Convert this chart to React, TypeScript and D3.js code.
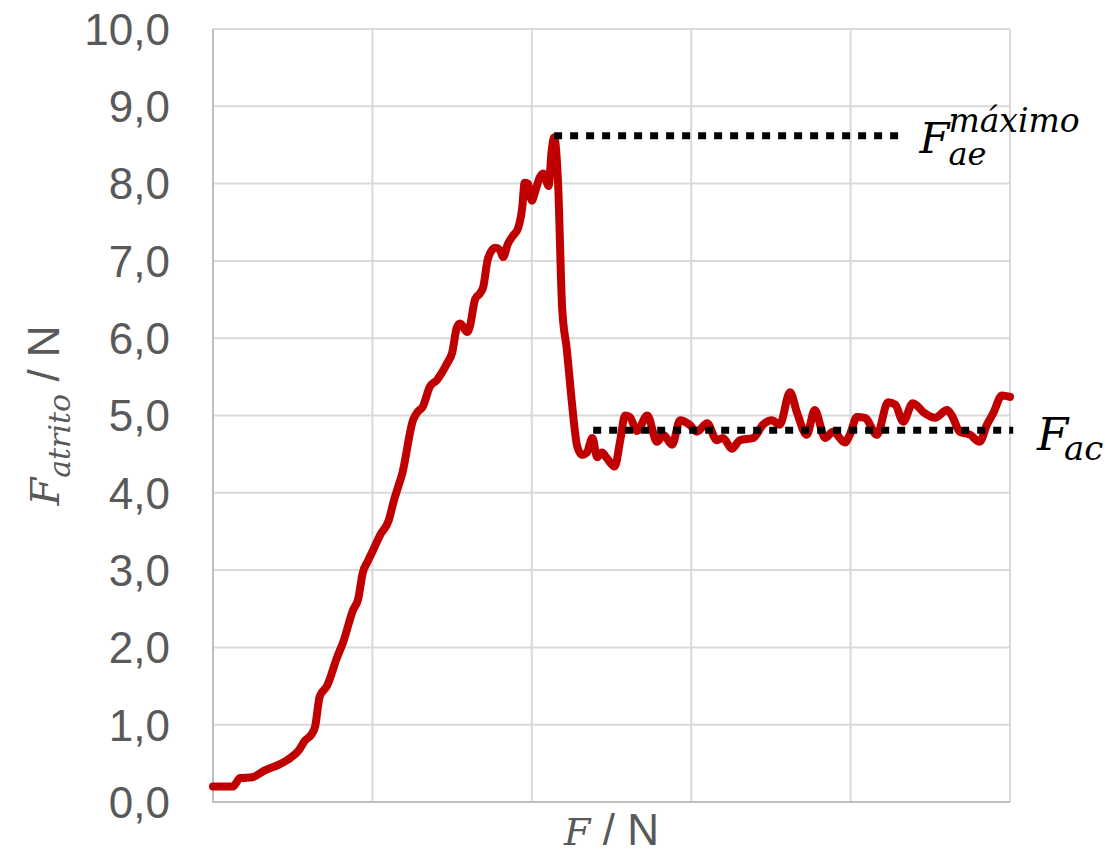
import React from 'react';
import * as d3 from 'd3';

// applied force (x) and friction force (y)
const forceValues = [
  0, 0.25, 0.34, 0.49, 0.65, 0.84, 0.97, 1.07, 1.15, 1.24, 1.28, 1.34, 1.43, 1.56, 1.63, 1.76, 1.82, 1.88,
  1.94, 2.01, 2.1, 2.2, 2.27, 2.33, 2.37, 2.51, 2.57, 2.63, 2.72, 2.81, 2.94, 3.0, 3.06, 3.1, 3.19, 3.22,
  3.29, 3.35, 3.39, 3.45, 3.54, 3.6, 3.64, 3.7, 3.76, 3.83, 3.88, 3.91, 3.95, 4.0, 4.04, 4.1, 4.14, 4.19,
  4.21, 4.25, 4.28, 4.33, 4.38, 4.44, 4.5, 4.57, 4.63, 4.69, 4.76, 4.82, 4.88, 4.94, 5.04, 5.11, 5.17, 5.23,
  5.32, 5.45, 5.57, 5.65, 5.76, 5.86, 5.98, 6.07, 6.2, 6.32, 6.4, 6.51, 6.61, 6.78, 6.9, 7.01, 7.11, 7.24,
  7.33, 7.45, 7.55, 7.68, 7.78, 7.93, 7.99, 8.08, 8.18, 8.33, 8.47, 8.56, 8.66, 8.78, 8.93, 9.06, 9.21,
  9.27, 9.37, 9.5, 9.62, 9.71, 9.79, 9.9, 10.0,
];
const frictionValues = [
  0.2, 0.2, 0.31, 0.32, 0.41, 0.49, 0.57, 0.66, 0.79, 0.88, 0.97, 1.37, 1.5, 1.88, 2.06, 2.49, 2.62, 2.97,
  3.11, 3.26, 3.46, 3.63, 3.9, 4.1, 4.23, 4.94, 5.05, 5.11, 5.37, 5.46, 5.68, 5.81, 6.14, 6.19, 6.08, 6.14,
  6.51, 6.58, 6.66, 7.03, 7.17, 7.14, 7.05, 7.22, 7.32, 7.43, 7.69, 8.01, 8.0, 7.78, 7.89, 8.08, 8.13, 8.01,
  7.97, 8.43, 8.6, 8.0, 6.4, 5.85, 5.2, 4.6, 4.49, 4.52, 4.71, 4.46, 4.52, 4.45, 4.34, 4.68, 5.0, 4.98,
  4.8, 5.0, 4.66, 4.75, 4.62, 4.94, 4.88, 4.79, 4.9, 4.68, 4.71, 4.57, 4.68, 4.71, 4.88, 4.94, 4.88, 5.3,
  5.03, 4.75, 5.07, 4.71, 4.79, 4.65, 4.75, 4.98, 4.97, 4.75, 5.17, 5.14, 4.92, 5.16, 5.03, 4.97, 5.07,
  5.0, 4.79, 4.75, 4.66, 4.88, 5.03, 5.26, 5.24,
];

const yTicks = [0, 1, 2, 3, 4, 5, 6, 7, 8, 9, 10];
const xTicks = [0, 2, 4, 6, 8, 10];

// reference levels: maximum static friction and kinetic friction
const staticMax = 8.62;
const staticRange = [4.28, 8.6];
const kinetic = 4.81;
const kineticRange = [4.77, 10.04];

const W = 1114;
const H = 856;
const margin = { left: 213, right: 104, top: 29, bottom: 54 };

const grey = '#595959';
const sans = '"Liberation Sans", Arial, sans-serif';
const serif = '"DejaVu Serif", serif';

const App = () => {
  const x = d3.scaleLinear().domain([0, 10]).range([margin.left, W - margin.right]);
  const y = d3.scaleLinear().domain([0, 10]).range([H - margin.bottom, margin.top]);

  const pts: [number, number][] = forceValues.map((f, i) => [f, frictionValues[i]]);
  const line = d3
    .line<[number, number]>()
    .x((d) => x(d[0]))
    .y((d) => y(d[1]))
    .curve(d3.curveMonotoneX);

  const fmt = (v: number) => v.toFixed(1).replace('.', ',');

  return (
    <svg width={W} height={H} style={{ position: 'absolute', left: 0, top: 0 }}>
      <rect width={W} height={H} fill="#fff" />
      {/* grid */}
      {yTicks.slice(1).map((t) => (
        <line key={'gy' + t} x1={x(0)} x2={x(10)} y1={y(t)} y2={y(t)} stroke="#d9d9d9" strokeWidth={2} />
      ))}
      {xTicks.slice(1).map((t) => (
        <line key={'gx' + t} x1={x(t)} x2={x(t)} y1={y(0)} y2={y(10)} stroke="#d9d9d9" strokeWidth={2} />
      ))}
      {/* axes */}
      <line x1={x(0)} x2={x(0)} y1={y(0) + 1} y2={y(10)} stroke="#bfbfbf" strokeWidth={2} />
      <line x1={x(0)} x2={x(10)} y1={y(0)} y2={y(0)} stroke="#bfbfbf" strokeWidth={2} />
      {yTicks.map((t) => (
        <text key={'ty' + t} x={170} y={y(t)} dy="0.36em" textAnchor="end" fontFamily={sans} fontSize={44} fill={grey}>
          {fmt(t)}
        </text>
      ))}

      {/* data */}
      <path d={line(pts) ?? ''} fill="none" stroke="#c00000" strokeWidth={8} strokeLinejoin="round" strokeLinecap="round" />

      {/* dotted reference lines */}
      <line x1={x(staticRange[0])} x2={x(staticRange[1])} y1={y(staticMax)} y2={y(staticMax)} stroke="#000" strokeWidth={7} strokeDasharray="8,8" />
      <line x1={x(kineticRange[0])} x2={x(kineticRange[1])} y1={y(kinetic)} y2={y(kinetic)} stroke="#000" strokeWidth={7} strokeDasharray="8,8" />

      {/* annotations */}
      <g fontFamily={serif} fontStyle="italic" fill="#000">
        <text x={x(staticRange[1]) + 21} y={y(staticMax) + 17} fontSize={43}>F</text>
        <text x={x(staticRange[1]) + 50} y={y(staticMax) - 4} fontSize={33}>máximo</text>
        <text x={x(staticRange[1]) + 50} y={y(staticMax) + 29} fontSize={32}>ae</text>
        <text x={x(10) + 27} y={y(kinetic) + 20} fontSize={45}>F</text>
        <text x={x(10) + 54} y={y(kinetic) + 30} fontSize={34}>ac</text>
      </g>

      {/* axis titles */}
      <text x={(x(0) + x(10)) / 2} y={845} textAnchor="middle" fill={grey}>
        <tspan fontFamily={serif} fontStyle="italic" fontSize={38}>F</tspan>
        <tspan fontFamily={sans} fontSize={44}> / N</tspan>
      </text>
      <text transform={`translate(59,${(y(0) + y(10)) / 2}) rotate(-90)`} textAnchor="middle" fill={grey}>
        <tspan fontFamily={serif} fontStyle="italic" fontSize={40}>F</tspan>
        <tspan fontFamily={serif} fontStyle="italic" fontSize={30} dy={11}>atrito</tspan>
        <tspan fontFamily={sans} fontSize={44} dy={-11}> / N</tspan>
      </text>
    </svg>
  );
};

export default App;
